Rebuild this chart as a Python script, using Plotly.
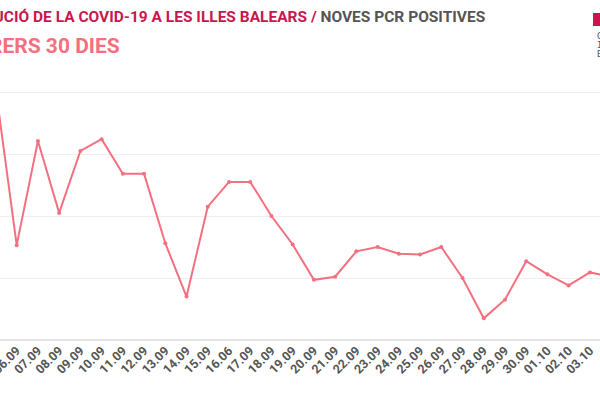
import plotly.graph_objects as go

dates = ["05.09", "06.09", "07.09", "08.09", "09.09", "10.09", "11.09", "12.09", "13.09", "14.09",
         "15.09", "16.06", "17.09", "18.09", "19.09", "20.09", "21.09", "22.09", "23.09", "24.09",
         "25.09", "26.09", "27.09", "28.09", "29.09", "30.09", "01.10", "02.10", "03.10", "04.10"]
pcr_positives = [408, 153, 321, 205, 305, 324, 268, 268, 156, 70,
                 215, 255, 255, 200, 154, 97, 102, 143, 150, 139,
                 138, 150, 100, 35, 65, 127, 106, 88, 109, 102]
y_grid = [0, 100, 200, 300, 400]

LINE = "#f47080"
CRIMSON = "#c8164f"
GREY = "#555555"

idx = list(range(len(dates)))

fig = go.Figure()
fig.add_trace(go.Scatter(
    x=idx, y=pcr_positives, mode="lines+markers",
    line=dict(color=LINE, width=2),
    marker=dict(color=LINE, size=4),
    hoverinfo="skip", showlegend=False,
))

fig.update_layout(
    width=600, height=400,
    margin=dict(l=0, r=0, t=70, b=60, autoexpand=False),
    paper_bgcolor="white", plot_bgcolor="white",
    font=dict(family="Roboto, sans-serif", color=GREY),
    xaxis=dict(
        range=[0.2134, 28.476], automargin=False,
        tickvals=idx, ticktext=dates, tickangle=-45,
        ticklabeloverflow="allow",
        tickfont=dict(size=12.5, color=GREY, family="Roboto", weight="bold"),
        showgrid=False, zeroline=False, showline=False, ticks="",
    ),
    yaxis=dict(
        range=[0, 435.5], tickvals=y_grid, showticklabels=False, automargin=False,
        showgrid=True, gridcolor="#efefef", gridwidth=1,
        zeroline=True, zerolinecolor="#e4e4e4", zerolinewidth=2,
        showline=False, ticks="",
    ),
    annotations=[
        dict(xref="paper", yref="paper", x=487 / 600, y=(400 - 17 - 60) / 270,
             xanchor="right", yanchor="middle", showarrow=False,
             text=f"<span style='color:{CRIMSON}'>EVOLUCIÓ DE LA COVID-19 A LES ILLES BALEARS /</span> NOVES PCR POSITIVES",
             font=dict(size=15.5, color=GREY, family="Roboto", weight="bold")),
        dict(xref="paper", yref="paper", x=122 / 600, y=(400 - 46 - 60) / 270,
             xanchor="right", yanchor="middle", showarrow=False,
             text="DARRERS 30 DIES",
             font=dict(size=21, color=LINE, family="Roboto", weight="bold")),
        dict(xref="paper", yref="paper", x=595 / 600, y=(400 - 36 - 60) / 270,
             xanchor="left", yanchor="middle", showarrow=False, text="GOVERN",
             font=dict(size=9, color=GREY, family="DejaVu Sans Mono")),
        dict(xref="paper", yref="paper", x=595 / 600, y=(400 - 45 - 60) / 270,
             xanchor="left", yanchor="middle", showarrow=False, text="ILLES",
             font=dict(size=9, color=GREY, family="DejaVu Sans Mono")),
        dict(xref="paper", yref="paper", x=595 / 600, y=(400 - 54 - 60) / 270,
             xanchor="left", yanchor="middle", showarrow=False, text="BALEARS",
             font=dict(size=9, color=GREY, family="DejaVu Sans Mono")),
    ],
    shapes=[
        dict(type="rect", xref="paper", yref="paper",
             x0=593 / 600, x1=600 / 600, y0=(400 - 26 - 60) / 270, y1=(400 - 13 - 60) / 270,
             fillcolor=CRIMSON, line=dict(width=0)),
    ],
)

fig.write_html("out.html", config={"displayModeBar": False},
               post_script="document.body.style.margin='0';")
